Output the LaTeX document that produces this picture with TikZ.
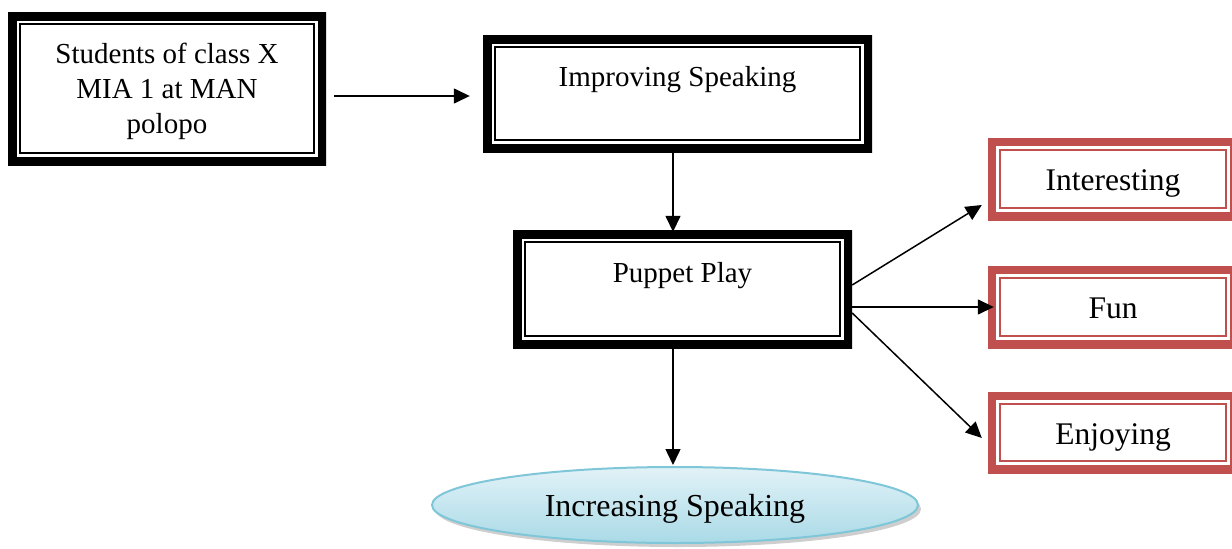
\documentclass[tikz,border=0pt]{standalone}
\usepackage{fontspec}
\setmainfont{Liberation Serif}
\usetikzlibrary{arrows.meta,shapes.geometric,shadows}
\definecolor{boxred}{HTML}{C0504D}
\definecolor{ellborder}{HTML}{7FC6D8}
\definecolor{elltop}{HTML}{E2F2F7}
\definecolor{ellbot}{HTML}{A9DAE7}
\newcommand\tstrut[1]{\rule[-0.3\baselineskip]{0pt}{\dimexpr\baselineskip+#1\relax}}
\begin{document}
\begin{tikzpicture}[x=1pt,y=-1pt,
  blackbox/.style={rectangle, inner sep=0pt, align=center,
    font=\rmfamily\fontsize{29}{35}\selectfont,
    path picture={
      \draw[line width=17pt] (path picture bounding box.south west) rectangle (path picture bounding box.north east);
      \draw[line width=2pt] ([shift={(12pt,12pt)}]path picture bounding box.south west) rectangle ([shift={(-12pt,-12pt)}]path picture bounding box.north east);}},
  redbox/.style={rectangle, inner sep=0pt, align=center,
    minimum width=250pt, minimum height=82pt,
    font=\rmfamily\fontsize{31.5}{38}\selectfont,
    path picture={
      \draw[boxred, line width=16pt] (path picture bounding box.south west) rectangle (path picture bounding box.north east);
      \draw[boxred, line width=2pt] ([shift={(12pt,12pt)}]path picture bounding box.south west) rectangle ([shift={(-12pt,-12pt)}]path picture bounding box.north east);}},
  arr/.style={line width=1.5pt, -{Triangle[length=16pt,width=15pt]}},
  ellstyle/.style={ellipse, inner sep=0pt, minimum width=486pt, minimum height=76pt,
    draw=ellborder, line width=2pt, top color=elltop, bottom color=ellbot,
    drop shadow={shadow xshift=3pt, shadow yshift=-4pt, opacity=0.35, fill=black!55},
    font=\rmfamily\fontsize{32}{38}\selectfont}
]
\useasboundingbox (0,0) rectangle (1232,549);

\node[blackbox, minimum width=318pt, minimum height=153pt] (b1) at (167,88.5)
  {\tstrut{6pt}Students of class X\\\strut MIA 1 at MAN\\\strut polopo};
\node[blackbox, minimum width=389pt, minimum height=117pt] (b2) at (677.5,93.5)
  {\tstrut{6pt}Improving Speaking\\\strut};
\node[blackbox, minimum width=339pt, minimum height=118pt] (b3) at (682.5,289)
  {\tstrut{8pt}Puppet Play\\\strut};

\node[redbox] (int) at (1113,179) {\tstrut{8pt}Interesting};
\node[redbox] (fun) at (1113,307) {\tstrut{8pt}Fun};
\node[redbox, minimum height=81pt] (enj) at (1113,432.5) {\tstrut{8pt}Enjoying};

\node[ellstyle] (ell) at (675,505) {\tstrut{7pt}Increasing Speaking};

\coordinate (ax) at (673,0);

\draw[arr] ([xshift=8pt,yshift=-7.5pt]b1.east) -- ([xshift=-13pt,yshift=-2.5pt]b2.west);
\draw[arr] (b2.south -| ax) -- ([yshift=-2pt]b3.north -| ax);
\draw[arr] (b3.south -| ax) -- ([yshift=1pt]ell.north -| ax);
\draw[arr] ([yshift=4pt]b3.east) -- ([xshift=-6pt,yshift=-26pt]int.west);
\draw[arr] ([yshift=-18pt]b3.east) -- ([xshift=6pt,yshift=-18pt]b3.east -| fun.west);
\draw[arr] ([yshift=-24pt]b3.east) -- ([xshift=-6pt,yshift=-5.5pt]enj.west);
\end{tikzpicture}
\end{document}
